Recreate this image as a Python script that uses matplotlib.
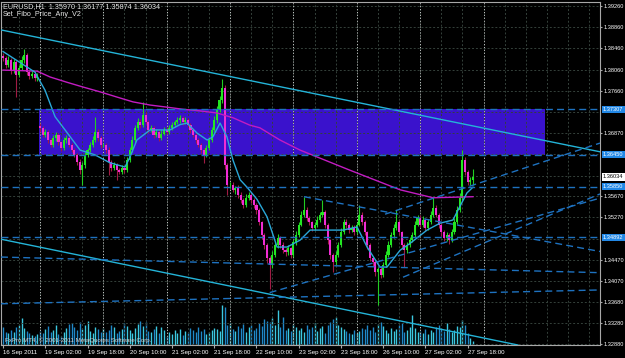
import numpy as np
import matplotlib
matplotlib.use("Agg")
import matplotlib.pyplot as plt
from matplotlib.patches import Rectangle

# ---------------- data ----------------
symbol_title = "EURUSD,H1  1.35970 1.36177 1.35874 1.36034"
indicator_name = "Set_Fibo_Price_Any_V2"
copyright_text = "FxPro MT4, \u00a9 2001-2011 MetaQuotes Software Corp."

first_open = 1.3832
gap_opens = {14: 1.3700}          # weekend gap (19 Sep open)

closes = [
    # 16 Sep
    1.3828, 1.3815, 1.3824, 1.3805, 1.3820, 1.3796, 1.3809, 1.3824, 1.3834, 1.3801, 1.3794, 1.3798, 1.3790, 1.3796,
    # 19 Sep
    1.3696, 1.3683, 1.3688, 1.3673, 1.3664, 1.3677, 1.3683, 1.3669, 1.3658, 1.3673, 1.3677, 1.3664,
    1.3654, 1.3645, 1.3632, 1.3617, 1.3626, 1.3645, 1.3654, 1.3664, 1.3673, 1.3688, 1.3677, 1.3664,
    # 20 Sep
    1.3664, 1.3654, 1.3632, 1.3620, 1.3626, 1.3617, 1.3613, 1.3620, 1.3617, 1.3635, 1.3654, 1.3673,
    1.3696, 1.3707, 1.3702, 1.3721, 1.3707, 1.3692, 1.3696, 1.3683, 1.3688, 1.3677, 1.3685, 1.3692,
    # 21 Sep
    1.3688, 1.3696, 1.3702, 1.3707, 1.3711, 1.3715, 1.3707, 1.3711, 1.3702, 1.3692, 1.3683, 1.3673,
    1.3664, 1.3654, 1.3645, 1.3658, 1.3673, 1.3692, 1.3711, 1.3730, 1.3749, 1.3771, 1.3626, 1.3588,
    # 22 Sep
    1.3588, 1.3579, 1.3583, 1.3570, 1.3560, 1.3551, 1.3564, 1.3570, 1.3560, 1.3551, 1.3541, 1.3518,
    1.3494, 1.3475, 1.3450, 1.3437, 1.3456, 1.3475, 1.3488, 1.3475, 1.3465, 1.3461, 1.3469, 1.3456,
    # 23 Sep
    1.3480, 1.3494, 1.3513, 1.3532, 1.3541, 1.3526, 1.3518, 1.3507, 1.3513, 1.3522, 1.3532, 1.3537,
    1.3513, 1.3484, 1.3456, 1.3443, 1.3456, 1.3475, 1.3499, 1.3518, 1.3513, 1.3503, 1.3507, 1.3499,
    # 26 Sep
    1.3513, 1.3532, 1.3518, 1.3499, 1.3475, 1.3450, 1.3443, 1.3424, 1.3430, 1.3418, 1.3437, 1.3456,
    1.3475, 1.3494, 1.3507, 1.3518, 1.3499, 1.3475, 1.3465, 1.3475, 1.3484, 1.3494, 1.3513, 1.3526,
    # 27 Sep
    1.3513, 1.3522, 1.3507, 1.3518, 1.3532, 1.3545, 1.3532, 1.3513, 1.3499, 1.3488, 1.3494, 1.3484,
    1.3499, 1.3518, 1.3541, 1.3564, 1.3635, 1.3613, 1.3593, 1.3597, 1.36034,
]

# upper / lower shadow lengths in pips
up_wick_pips = [
    6, 4, 8, 3, 6, 4, 5, 8, 11, 3, 4, 5, 3, 4,
    6, 3, 5, 4, 3, 6, 5, 4, 3, 6, 5, 3, 4, 4, 3, 5, 6, 5, 4, 6, 8, 29, 5, 4,
    4, 3, 5, 3, 6, 3, 4, 5, 3, 6, 5, 7, 5, 8, 6, 23, 5, 4, 6, 3, 5, 4, 6, 5,
    5, 6, 5, 4, 6, 5, 4, 6, 3, 4, 3, 4, 3, 4, 3, 6, 5, 6, 7, 8, 7, 17, 6, 4,
    5, 6, 4, 5, 4, 3, 8, 5, 4, 3, 4, 3, 3, 4, 3, 4, 8, 6, 7, 4, 5, 4, 6, 3,
    5, 8, 6, 7, 25, 5, 4, 3, 6, 7, 5, 23, 4, 3, 3, 4, 8, 6, 7, 6, 5, 4, 6, 5,
    6, 19, 5, 4, 3, 4, 3, 3, 4, 5, 6, 7, 8, 6, 7, 23, 4, 3, 4, 5, 6, 5, 7, 6,
    6, 7, 4, 6, 7, 21, 5, 4, 3, 4, 5, 3, 6, 7, 8, 9, 19, 5, 4, 6, 14.3,
]
down_wick_pips = [
    5, 6, 4, 7, 5, 42, 5, 4, 6, 5, 6, 4, 5, 6,
    8, 5, 4, 6, 5, 4, 5, 6, 5, 4, 6, 5, 4, 5, 6, 8, 29, 5, 4, 3, 5, 4, 5, 6,
    5, 6, 25, 5, 4, 19, 5, 4, 6, 5, 4, 3, 5, 4, 6, 5, 4, 5, 3, 6, 4, 5, 4, 3,
    4, 3, 5, 4, 3, 5, 6, 4, 5, 6, 5, 6, 5, 6, 15, 4, 3, 4, 3, 5, 4, 6, 8, 18,
    6, 5, 7, 6, 5, 6, 4, 5, 6, 7, 8, 6, 7, 8, 9, 45, 5, 4, 6, 5, 6, 7, 5, 6,
    4, 5, 4, 3, 5, 6, 5, 6, 4, 5, 3, 4, 6, 8, 7, 19, 5, 4, 3, 4, 6, 5, 4, 5,
    4, 3, 5, 6, 7, 6, 8, 7, 62, 5, 4, 3, 4, 3, 5, 4, 6, 7, 32, 5, 4, 3, 4, 3,
    4, 5, 6, 4, 3, 4, 5, 6, 7, 5, 6, 7, 4, 3, 4, 3, 5, 6, 5, 4, 9.6,
]

volumes = [
    1800, 1300, 1200, 1500, 1300, 1800, 2000, 2700, 1700, 1400, 1200, 1000, 900, 1100,
    1400, 1200, 1600, 1900, 1300, 1500, 2000, 1100, 900, 1300, 1700, 2100,
    2200, 1800, 1500, 2300, 1600, 2000, 2400, 1400, 1200, 1800, 1600, 1300,
    1700, 1300, 1500, 2000, 1800, 1200, 1400, 1600, 2200, 1900, 1500, 1200,
    1700, 2100, 2400, 1900, 2300, 1400, 1300, 1600, 1900, 1200, 1800, 1500,
    900, 1300, 1100, 1500, 1200, 1600, 1000, 1400, 1200, 1700, 1500, 1300,
    1800, 1400, 1600, 1100, 1300, 1500, 1700, 1600, 1400, 4000, 3800, 2000,
    2200, 1600, 1400, 1900, 1700, 2100, 1300, 1800, 2000, 1500, 1700, 2200,
    1900, 2600, 2400, 2300, 2700, 2000, 3500, 1800, 2800, 1500, 1700, 1400,
    2100, 1800, 1500, 1700, 1300, 2000, 1600, 1800, 2200, 1400, 1700, 1900,
    1200, 2000, 2300, 2600, 2800, 2000, 1800, 1600, 1400, 1200, 1100, 1500,
    1200, 1400, 1700, 1600, 2000, 1500, 1800, 1300, 2100, 2300, 1900, 1500,
    1200, 1700, 1400, 1600, 2000, 2200, 1300, 1500, 1800, 3000, 1700, 1300,
    1400, 1200, 1600, 1100, 1500, 1300, 1800, 2000, 1700, 1400, 2200, 1600,
    1300, 1500, 1900, 1800, 2500, 2000, 1200, 700, 400,
]

# moving averages (vertices: bar index, price)
ma_fast_bars = [0, 12.1, 15.9, 19.7, 23.5, 29.2, 34.8, 40.5, 46.2, 48.1, 50.7, 55.7, 63.2, 67.0, 69.7,
                73.5, 77.3, 79.5, 82.2, 84.8, 87.1, 89.8, 92.4, 96.2, 100.0, 103.8, 107.6, 112.5,
                116.3, 122.7, 128.8, 134.1, 137.9, 142.8, 145.4, 150.4, 154.2, 160.6, 165.5,
                170.4, 175.7, 178]
ma_fast_prices = [1.3840, 1.3801, 1.3767, 1.3717, 1.3692, 1.3654, 1.3645, 1.3630, 1.3622, 1.3641,
                  1.3673, 1.3692, 1.3692, 1.3702, 1.3705, 1.3686, 1.3673, 1.3679, 1.3705, 1.3679,
                  1.3635, 1.3598, 1.3584, 1.3561, 1.3528, 1.3471, 1.3471, 1.3484, 1.3503, 1.3503,
                  1.3503, 1.3509, 1.3471, 1.3433, 1.3433, 1.3465, 1.3478, 1.3503, 1.3516, 1.3522,
                  1.3573, 1.3584]
ma_slow_bars = [0, 12.9, 17.8, 24.2, 30.3, 36.7, 43.2, 49.2, 55.7, 62.1, 68.2, 74.6, 81.0, 87.1,
                93.5, 97.3, 104.9, 112.5, 131.4, 150.4, 162.9, 178]
ma_slow_prices = [1.3805, 1.3803, 1.3792, 1.3782, 1.3773, 1.3764, 1.3754, 1.3745, 1.3739, 1.3735,
                  1.3731, 1.3728, 1.3724, 1.3715, 1.3701, 1.3696, 1.3673, 1.3654, 1.3616, 1.3579,
                  1.3564, 1.3566]

# price zone
zone_start_bar, zone_end_bar = 13.6, 205.3
zone_high, zone_low = 1.37307, 1.36450

# horizontal levels (dashed)
level_prices = [1.37307, 1.36450, 1.35850, 1.34892]
current_price = 1.36034

# trend lines: two anchor points (bar, price)
channel_lines = [((0, 1.3880), (220, 1.3657)), ((0, 1.3485), (100, 1.3383))]
dashed_full_lines = [((0, 1.3452), (200, 1.3426)), ((0, 1.3364), (200, 1.3387))]
dashed_rays = [((114, 1.3566), (178, 1.3507)),
               ((144.7, 1.3533), (226, 1.3667)),
               ((151.5, 1.3414), (226, 1.3571)),
               ((101, 1.3385), (188, 1.3509))]

# axes labels
price_ticks = [1.39260, 1.38860, 1.38460, 1.38060, 1.37660, 1.36870, 1.35670, 1.35270,
               1.34470, 1.34070, 1.33680, 1.33280, 1.32880]
hidden_grid_prices = [1.37260, 1.36460, 1.36060, 1.34870]
time_tick_bars = [0, 16, 32, 48, 64, 80, 96, 112, 128, 144, 160, 176]
time_tick_labels = ["16 Sep 2011", "19 Sep 02:00", "19 Sep 18:00", "20 Sep 10:00", "21 Sep 02:00",
                    "21 Sep 18:00", "22 Sep 10:00", "23 Sep 02:00", "23 Sep 18:00", "26 Sep 10:00",
                    "27 Sep 02:00", "27 Sep 18:00"]
day_start_bars = [14, 38, 62, 86, 110, 134, 158, 182]

# ---------------- drawing ----------------
W, H = 625, 358
FONT = "Liberation Sans"
plt.rcParams["font.family"] = [FONT, "DejaVu Sans"]

fig = plt.figure(figsize=(W / 100, H / 100), dpi=100, facecolor="black")
rect = [1 / W, 13 / H, 599 / W, 343 / H]
XMIN, XMAX = -0.773, 226.12
YMIN, YMAX = 1.32861, 1.39335
LBL = 4.1

axv = fig.add_axes(rect, facecolor="black")
axv.set_zorder(0)
ax = fig.add_axes(rect)
ax.set_zorder(1)
ax.patch.set_visible(False)

n = len(closes)
idx = np.arange(n)
closes_a = np.array(closes)
opens_a = np.concatenate([[first_open], closes_a[:-1]])
for k, v in gap_opens.items():
    opens_a[k] = v
highs_a = np.maximum(opens_a, closes_a) + np.array(up_wick_pips) * 1e-4
lows_a = np.minimum(opens_a, closes_a) - np.array(down_wick_pips) * 1e-4
bull = closes_a >= opens_a

# volume
axv.set_xlim(XMIN, XMAX)
axv.set_ylim(0, 34300)
axv.vlines(idx, 0, volumes, colors=np.where(bull, "#3cc8e0", "#1f88c8"), lw=1.0)
axv.set_xticks([]); axv.set_yticks([])
for s in axv.spines.values():
    s.set_visible(False)

ax.set_xlim(XMIN, XMAX)
ax.set_ylim(YMIN, YMAX)

# zone
ax.add_patch(Rectangle((zone_start_bar, zone_low), zone_end_bar - zone_start_bar,
                       zone_high - zone_low, facecolor="#3a12cc", edgecolor="none", zorder=1))

# grid
grid_c = "#34403a"
for p in price_ticks + hidden_grid_prices:
    ax.axhline(p, color=grid_c, lw=0.7, ls=(0, (2, 2)), zorder=1.5)
for b in np.arange(6, 227, 8):
    ax.axvline(b, color=grid_c, lw=0.7, ls=(0, (2, 2)), zorder=1.5)
for b in day_start_bars:
    ax.axvline(b, color="#c8c8c8", lw=0.7, ls=(0, (1, 2)), zorder=1.6)

# candles
ax.vlines(idx, lows_a, highs_a, colors=np.where(bull, "#22cc22", "#a01c44"), lw=0.8, zorder=3)
body_bottom = np.minimum(opens_a, closes_a)
body_h = np.maximum(np.abs(closes_a - opens_a), 0.00003)
ax.bar(idx, body_h, bottom=body_bottom, width=0.8,
       color=np.where(bull, "#22e622", "#f02cd4"), edgecolor="none", zorder=3.2)

# moving averages
ax.plot(ma_slow_bars, ma_slow_prices, color="#c21cc2", lw=1.0, zorder=3.5)
ax.plot(ma_fast_bars, ma_fast_prices, color="#2aa8d8", lw=1.0, zorder=3.6)

# trend lines
line_c = "#24b4d8"
for p0, p1 in channel_lines:
    ax.axline(p0, p1, color=line_c, lw=1.0, zorder=4)
dash_c = "#1e72c0"
dash_ls = (0, (5, 3))
for p0, p1 in dashed_full_lines:
    ax.axline(p0, p1, color=dash_c, lw=1.0, ls=dash_ls, zorder=4)
for (b0, v0), (b1, v1) in dashed_rays:
    slope = (v1 - v0) / (b1 - b0)
    ax.plot([b0, XMAX], [v0, v0 + slope * (XMAX - b0)], color=dash_c, lw=1.0, ls=dash_ls, zorder=4)
for p in level_prices:
    ax.axhline(p, color=dash_c, lw=1.0, ls=dash_ls, zorder=4)

# axes styling
for s in ax.spines.values():
    s.set_color("#a8a8a8")
    s.set_linewidth(0.8)
ax.yaxis.tick_right()
ax.set_yticks(price_ticks)
ax.set_yticklabels([f"{p:.5f}" for p in price_ticks])
ax.tick_params(axis="y", length=1.5, pad=0.8, labelsize=LBL, colors="#a8a8a8", labelcolor="white")
ax.set_xticks(time_tick_bars)
ax.set_xticklabels(time_tick_labels, ha="left")
ax.tick_params(axis="x", length=2.5, pad=1, labelsize=4.4, colors="#a8a8a8", labelcolor="white")

ytr = ax.get_yaxis_transform()
for p in level_prices:
    ax.text(1.0 + 3 / 599, p, f"{p:.5f}", transform=ytr, va="center", ha="left", fontsize=LBL,
            color="white", clip_on=False, zorder=6,
            bbox=dict(boxstyle="square,pad=0.2", fc="#2288e6", ec="none"))
ax.text(1.0 + 3 / 599, current_price, f"{current_price:.5f}", transform=ytr, va="center", ha="left",
        fontsize=LBL, color="black", clip_on=False, zorder=6,
        bbox=dict(boxstyle="square,pad=0.2", fc="white", ec="none"))

# texts
fig.text(3 / W, 1 - 6.5 / H, symbol_title, color="#e6e6e6", fontsize=5.2, va="center", ha="left")
fig.text(3 / W, 1 - 14.5 / H, indicator_name, color="#e6e6e6", fontsize=5.2, va="center", ha="left")
fig.text(5 / W, 1 - 340.5 / H, copyright_text, color="#cfcfcf", fontsize=4.4, va="center", ha="left")

fig.savefig("out.png", dpi=100, facecolor="black")
